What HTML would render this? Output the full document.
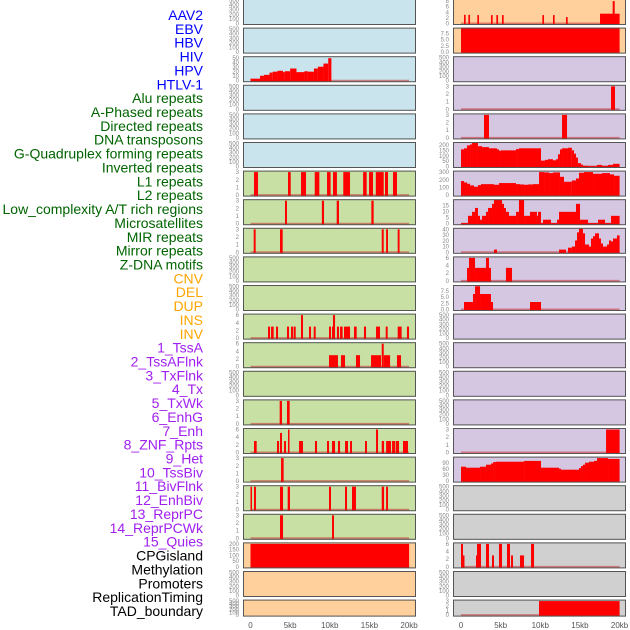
<!DOCTYPE html>
<html><head><meta charset="utf-8">
<style>
html,body{margin:0;padding:0;background:#fff;}
svg{display:block;font-family:"Liberation Sans",sans-serif;}
</style></head>
<body>
<svg id="chart" width="630" height="630" viewBox="0 0 630 630" xmlns="http://www.w3.org/2000/svg"></svg>
<script>
// ---- labels ----
const labelNames=["AAV2","EBV","HBV","HIV","HPV","HTLV-1","Alu repeats","A-Phased repeats","Directed repeats","DNA transposons","G-Quadruplex forming repeats","Inverted repeats","L1 repeats","L2 repeats","Low_complexity A/T rich regions","Microsatellites","MIR repeats","Mirror repeats","Z-DNA motifs","CNV","DEL","DUP","INS","INV","1_TssA","2_TssAFlnk","3_TxFlnk","4_Tx","5_TxWk","6_EnhG","7_Enh","8_ZNF_Rpts","9_Het","10_TssBiv","11_BivFlnk","12_EnhBiv","13_ReprPC","14_ReprPCWk","15_Quies","CPGisland","Methylation","Promoters","ReplicationTiming","TAD_boundary"];
const labelGroups=[0,0,0,0,0,0,1,1,1,1,1,1,1,1,1,1,1,1,1,2,2,2,2,2,3,3,3,3,3,3,3,3,3,3,3,3,3,3,3,4,4,4,4,4];
const groupColors=["#0000ff","#006400","#ffa500","#a020f0","#000000"];
const groupBg=["#c9e4ec","#c8e0a4","#ffd09c","#d5c6e2","#d0d0d0"];
const xTicks=[0,5,10,15,20];
const xTickLabels=["0","5kb","10kb","15kb","20kb"];

// ---- data (kb start, kb end, value) ----
const hbvStart=[0,1.2,1.7,2.4,2.8,3.4,4.1,4.3,5.0,5.8,6.8,7.2,8.0,8.5,9.2,9.8];
const hbvVal=[4.5,11,13,18,20,22,19,21,27,19,21,20,27,31,38,50];
const aluStart=[0.44,4.73,6.37,8.1,9.65,10.4,11.7,14.2,14.95,15.8,16.96,17.97];
const aluEnd=[0.95,5.07,7.0,8.68,10.1,10.9,12.55,14.65,15.45,16.8,17.34,18.47];
const aphStart=[4.35,9.0,10.87,15.24];
const aphEnd=[4.6,9.27,11.16,15.53];
const dirStart=[0.40,3.72,16.55,17.1,18.56];
const dirEnd=[0.65,4.06,16.8,17.34,18.8];
const l1Start=[2.21,2.59,3.22,4.60,5.11,5.44,6.37,7.38,7.97,9.9,10.28,10.4,10.9,11.29,11.79,13.05,14.31,15.83,17.05,18.56,19.73];
const l1End=[2.46,2.92,3.47,4.86,5.36,5.70,6.62,7.63,8.22,10.15,10.4,10.66,11.16,11.62,12.55,13.39,14.57,16.33,17.3,19.06,19.99];
const l1Val=[3,3,3,3,3,3,6,3,3,3,3,6,3,3,3,3,3,3,3,3,3];
const l2Start=[9.9,11.41,13.3,15.2,16.55,16.8,18.47];
const l2End=[11.03,11.92,13.81,16.46,16.8,17.6,18.98];
const l2Val=[3,3,3,3,6,3,3];
const micStart=[3.68,4.6];
const micEnd=[3.97,4.94];
const mirStart=[0.44,3.34,3.72,4.23,4.73,6.12,8.13,9.65,10.28,11.03,11.92,12.55,14.44,15.83,16.55,17.1,17.85,18.3,19.23];
const mirEnd=[0.78,3.6,3.97,4.48,4.9,6.62,8.39,9.9,10.66,11.29,12.3,12.8,14.69,16.08,16.84,17.72,18.22,18.73,19.86];
const mirVal=[3,3,5.1,3,6,3,3,3,3,3,3,3,3,6,3,3,3,3,3];
const mrrStart=[3.85];
const mrrEnd=[4.18];
const zdnStart=[0,0.44,3.72,4.69,9.9,11.92,12.8,16.55,17.1];
const zdnEnd=[0.19,0.69,4.1,4.98,10.15,12.17,13.3,16.84,17.34];
const cnvStart=[3.72,10.28];
const cnvEnd=[4.1,10.53];
const delStart=[0];
const delEnd=[20];
const delVal=[200];
const insStart=[0.38,0.93,2.06,3.78,4.46,5.17,10.26,11.60,13.24,17.53,19.13];
const insEnd=[0.59,1.14,2.27,3.99,4.67,5.38,10.47,11.81,13.45,20,19.38];
const insVal=[3.1,3.1,3,3,3,3,3,3,2.3,3.5,8];
const invStart=[0];
const invEnd=[20];
const invVal=[10];
const tssaflStart=[18.92];
const tssaflEnd=[19.42];
const txflStart=[2.90,12.74];
const txflEnd=[3.53,13.37];
const txStart=[0,0.38,0.76,1.14,1.39,2.14,2.65,3.53,4.54,4.79,5.04,6.94,7.31,10.09,10.59,10.97,11.6,11.98,12.23,12.48,12.74,13.49,13.98,14.25,14.5,14.75,15.13,15.38,16.02,17.15,17.78,18.54,19.17];
const txVal=[160,170,197,206,222,190,181,170,160,148,151,163,170,55,62,68,58,68,114,160,170,175,151,120,83,31,18,6,3,15,6,15,25];
const txwkStart=[0,0.38,0.76,1.14,1.64,2.14,2.52,4.16,4.79,6.94,7.44,7.95,8.45,9.08,9.84,10.47,11.10,11.60,12.48,12.99,13.98,14.50,14.88,15.51,16.65,17.78,18.79,19.30];
const txwkVal=[183,165,148,126,109,130,143,135,157,143,139,135,139,143,300,296,287,296,239,174,191,217,291,300,278,287,270,252];
const enhgStart=[0,0.88,1.39,1.77,2.14,2.40,2.65,3.15,3.41,3.91,4.16,5.17,5.42,5.67,6.05,6.94,7.31,7.95,8.20,8.70,9.58,9.71,10.09,10.34,11.35,12.11,12.36,14.50,15.01,16.02,17.28,18.16,18.92];
const enhgVal=[0.5,6.5,9.8,13,6.5,3.3,6.5,9.8,13,16.4,19.6,16.4,13,9.8,6.5,9.8,19.6,6.5,6.5,9.8,6.5,9.8,0.5,3.3,0.5,3.3,9.8,16.4,3.3,0.5,3.3,0.5,6.5];
const enhStart=[4.16,12.36,13.49,13.98,14.38,14.63,14.88,15.38,15.64,16.14,16.39,16.65,16.90,17.40,17.65,17.91,18.41,18.66,18.92,19.17,19.67];
const enhEnd=[4.54,13.24,13.98,14.38,14.63,14.88,15.38,15.64,16.14,16.39,16.65,16.90,17.40,17.65,17.91,18.41,18.66,18.92,19.17,19.67,20];
const enhVal=[4.7,4.7,8,10,20.6,34.7,41,33,13.5,10,24,28,33,24,15.3,10,13.5,20.6,19,24,29.4];
const znfStart=[0.76,1.01,1.77,3.15,3.53,5.67];
const znfEnd=[1.01,1.77,3.15,3.53,3.78,6.43];
const znfVal=[3.4,6,3.4,6,3.4,3.4];
const hetStart=[0.38,1.51,1.77,2.40,3.78,8.70];
const hetEnd=[1.51,1.77,2.40,3.78,4.04,10.09];
const hetVal=[3,6.2,9.3,6.2,3,3];
const rpcwkStart=[18.29];
const rpcwkEnd=[20];
const quiesStart=[0,0.63,2.40,3.15,3.78,4.04,4.41,7.95,10.09,12.36,12.61,14.88,15.13,15.38,15.64,16.14,16.77,17.15,18.54];
const quiesVal=[72,67,72,82,88,95,97,101,67,62,57,65,75,82,92,97,101,115,111];
const methStart=[0,0.25,1.89,2.02,3.15,3.91,4.79,5.80,6.31,7.44,8.83];
const methEnd=[0.25,0.38,2.02,2.52,3.53,4.16,5.17,6.18,6.56,7.95,9.21];
const methVal=[6,3,3,6,6,3,6,6,3,3,6];
const tadStart=[9.84];
const tadEnd=[20];

function ends(starts,last){return starts.map((s,i)=>i<starts.length-1?starts[i+1]:last);}
function ones(arr,v){return arr.map(()=>v);}
const T500=["0","100","200","300","400","500"];
// panel specs: [col,row,group,ymax,ticks(values),tickLabels,start,end,val]
const panels=[
 [0,0,0,500,[0,100,200,300,400,500],T500],
 [0,1,0,500,[0,100,200,300,400,500],T500],
 [0,2,0,51,[0,10,20,30,40,50],["0","10","20","30","40","50"],hbvStart,ends(hbvStart,10.2),hbvVal],
 [0,3,0,500,[0,100,200,300,400,500],T500],
 [0,4,0,500,[0,100,200,300,400,500],T500],
 [0,5,0,500,[0,100,200,300,400,500],T500],
 [0,6,1,3,[0,1,2,3],["0","1","2","3"],aluStart,aluEnd,ones(aluStart,3)],
 [0,7,1,3,[0,1,2,3],["0","1","2","3"],aphStart,aphEnd,ones(aphStart,3)],
 [0,8,1,3,[0,1,2,3],["0","1","2","3"],dirStart,dirEnd,ones(dirStart,3)],
 [0,9,1,500,[0,100,200,300,400,500],T500],
 [0,10,1,500,[0,100,200,300,400,500],T500],
 [0,11,1,6,[0,2,4,6],["0","2","4","6"],l1Start,l1End,l1Val],
 [0,12,1,6,[0,2,4,6],["0","2","4","6"],l2Start,l2End,l2Val],
 [0,13,1,500,[0,100,200,300,400,500],T500],
 [0,14,1,3,[0,1,2,3],["0","1","2","3"],micStart,micEnd,ones(micStart,3)],
 [0,15,1,6,[0,2,4,6],["0","2","4","6"],mirStart,mirEnd,mirVal],
 [0,16,1,3,[0,1,2,3],["0","1","2","3"],mrrStart,mrrEnd,ones(mrrStart,3)],
 [0,17,1,3,[0,1,2,3],["0","1","2","3"],zdnStart,zdnEnd,ones(zdnStart,3)],
 [0,18,1,3,[0,1,2,3],["0","1","2","3"],cnvStart,cnvEnd,ones(cnvStart,3)],
 [0,19,2,200,[0,50,100,150,200],["0","50","100","150","200"],delStart,delEnd,delVal],
 [0,20,2,500,[0,100,200,300,400,500],T500],
 [0,21,2,500,[0,100,200,300,400,500],T500],
 [1,0,2,8.2,[0,2,4,6,8],["0","2","4","6","8"],insStart,insEnd,insVal],
 [1,1,2,9.2,[0,2.5,5,7.5],["0.0","2.5","5.0","7.5"],invStart,invEnd,invVal],
 [1,2,3,500,[0,100,200,300,400,500],T500],
 [1,3,3,3,[0,1,2,3],["0","1","2","3"],tssaflStart,tssaflEnd,ones(tssaflStart,3)],
 [1,4,3,3,[0,1,2,3],["0","1","2","3"],txflStart,txflEnd,ones(txflStart,3)],
 [1,5,3,215,[0,50,100,150,200],["0","50","100","150","200"],txStart,ends(txStart,20),txVal],
 [1,6,3,300,[0,100,200,300],["0","100","200","300"],txwkStart,ends(txwkStart,20),txwkVal],
 [1,7,3,19,[0,5,10,15],["0","5","10","15"],enhgStart,ends(enhgStart,20),enhgVal],
 [1,8,3,40,[0,10,20,30,40],["0","10","20","30","40"],enhStart,enhEnd,enhVal],
 [1,9,3,6,[0,2,4,6],["0","2","4","6"],znfStart,znfEnd,znfVal],
 [1,10,3,9.2,[0,2.5,5,7.5],["0.0","2.5","5.0","7.5"],hetStart,hetEnd,hetVal],
 [1,11,3,500,[0,100,200,300,400,500],T500],
 [1,12,3,500,[0,100,200,300,400,500],T500],
 [1,13,3,500,[0,100,200,300,400,500],T500],
 [1,14,3,500,[0,100,200,300,400,500],T500],
 [1,15,3,3,[0,1,2,3],["0","1","2","3"],rpcwkStart,rpcwkEnd,ones(rpcwkStart,3)],
 [1,16,3,115,[0,30,60,90],["0","30","60","90"],quiesStart,ends(quiesStart,20),quiesVal],
 [1,17,4,500,[0,100,200,300,400,500],T500],
 [1,18,4,500,[0,100,200,300,400,500],T500],
 [1,19,4,6,[0,2,4,6],["0","2","4","6"],methStart,methEnd,methVal],
 [1,20,4,500,[0,100,200,300,400,500],T500],
 [1,21,4,3,[0,1,2,3],["0","1","2","3"],tadStart,tadEnd,ones(tadStart,3)]
];

const NS="http://www.w3.org/2000/svg";
const svg=document.getElementById("chart");
function mk(tag,attrs,parent){const e=document.createElementNS(NS,tag);for(const k in attrs)e.setAttribute(k,attrs[k]);(parent||svg).appendChild(e);return e;}

// labels
labelNames.forEach((n,i)=>{
  const t=mk("text",{x:203,y:15+13.86*i+5,"text-anchor":"end","font-size":"14",fill:groupColors[labelGroups[i]]});
  
  
  t.textContent=n;
});

const colLeft=[243,453], colRight=[416,626], dataX0=[250.5,461], pxPerKb=7.93;
function xs(col,kb){return dataX0[col]+kb*pxPerKb;}

panels.forEach((p,idx)=>{
  const [col,row,grp,ymax,ticks,tickLabels,st,en,va]=p;
  const top=-1+28.6*row, h=row===21?17:26;
  const x0=colLeft[col], w=colRight[col]-colLeft[col];
  const y0=top+h-1.5, y1=top+1.5;
  const ys=v=>y0-(v/ymax)*(y0-y1);
  const g=mk("g",{});
  
  
  const cid="clip"+idx;
  const cp=mk("clipPath",{id:cid},g);
  mk("rect",{x:x0,y:top,width:w,height:h},cp);
  const bg=mk("rect",{x:x0,y:top,width:w,height:h,fill:groupBg[grp]},g);
  
  
  const inner=mk("g",{"clip-path":"url(#"+cid+")"},g);
  if(st){
    const bl=mk("line",{x1:xs(col,0),x2:xs(col,20),y1:y0,y2:y0,stroke:"rgba(200,50,50,0.55)","stroke-width":2},inner);
    
    
    st.forEach((s,i)=>{
      const xa=xs(col,s), xb=xs(col,en[i]), yv=ys(va[i]);
      const r=mk("rect",{x:xa,y:yv,width:Math.max(1.5,xb-xa),height:Math.max(0,y0+1-yv),fill:"#ff0000"},inner);
      
      
    });
  }
  const br=mk("rect",{x:x0+0.5,y:top+0.5,width:w-1,height:h-1,fill:"none",stroke:"#555","stroke-width":1},g);
  
  
  ticks.forEach((tv,i)=>{
    const t=mk("text",{x:x0-4,y:ys(tv)+2,"text-anchor":"end","font-size":"6",fill:"#888"},g);
    
    
    t.textContent=tickLabels[i];
  });
});

// x axis labels
[0,1].forEach(col=>{
  xTicks.forEach((v,i)=>{
    const t=mk("text",{x:xs(col,v),y:628,"text-anchor":"middle","font-size":"8",fill:"#555"});
    
    
    t.textContent=xTickLabels[i];
  });
});
</script>
</body></html>
